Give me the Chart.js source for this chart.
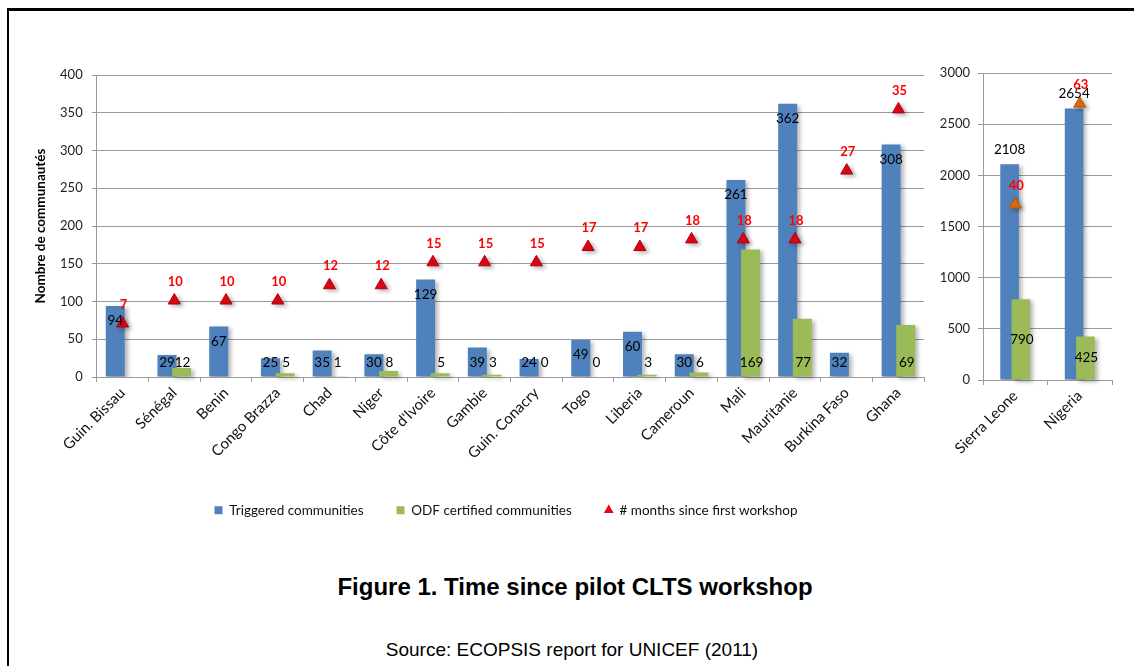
<!DOCTYPE html>
<html>
<head>
<meta charset="utf-8">
<script src="https://cdn.jsdelivr.net/npm/chart.js@4.4.1/dist/chart.umd.min.js"></script>
<style>
  html, body { margin: 0; padding: 0; background: #fff; }
  body { width: 1134px; height: 666px; position: relative; overflow: hidden; font-family: "Liberation Sans", Arial, sans-serif; }
  .frame { position: absolute; left: 7px; top: 8px; width: 1200px; height: 700px; border-left: 2px solid #000; border-top: 3px solid #000; }
  #leftWrap { position: absolute; left: 0; top: 0; width: 1134px; height: 527px; }
  #rightWrap { position: absolute; left: 935px; top: 0; width: 199px; height: 470px; }
  .title { position: absolute; left: 8px; width: 1134px; top: 573px; text-align: center; font-weight: bold; font-size: 24px; color: #000; }
  .source { position: absolute; left: 5px; width: 1134px; top: 639px; text-align: center; font-size: 19px; color: #000; }
</style>
</head>
<body>
<div class="frame"></div>
<div id="leftWrap"><canvas id="leftChart"></canvas></div>
<div id="rightWrap"><canvas id="rightChart"></canvas></div>
<div class="title">Figure 1. Time since pilot CLTS workshop</div>
<div class="source">Source: ECOPSIS report for UNICEF (2011)</div>
<script>
// small countries (left panel)
const countries = ['Guin. Bissau', 'Sénégal', 'Benin', 'Congo Brazza', 'Chad', 'Niger', "Côte d'Ivoire", 'Gambie',
  'Guin. Conacry', 'Togo', 'Liberia', 'Cameroun', 'Mali', 'Mauritanie', 'Burkina Faso', 'Ghana'];
const triggered = [94, 29, 67, 25, 35, 30, 129, 39, 24, 49, 60, 30, 261, 362, 32, 308];
const odfCertified = [null, 12, null, 5, 1, 8, 5, 3, 0, 0, 3, 6, 169, 77, null, 69];
const monthsSince = [7, 10, 10, 10, 12, 12, 15, 15, 15, 17, 17, 18, 18, 18, 27, 35];

// big countries (right panel)
const bigCountries = ['Sierra Leone', 'Nigeria'];
const bigTriggered = [2108, 2654];
const bigOdf = [790, 425];
const bigMonths = [40, 63];

const seriesNames = ['Triggered communities', 'ODF certified communities', '# months since first workshop'];
const yTitle = 'Nombre de communautés';

const BLUE = '#4F81BD';
const GREEN = '#9BBB59';
const RED = '#E30613';
const ORANGE = '#E46C0A';
const GRID = '#9a9a9a';
const tickFont = { family: 'Lato', size: 13 };
const catFont = { family: 'Lato', size: 15 };

function setShadow(ctx) {
  ctx.shadowColor = 'rgba(0,0,0,0.28)';
  ctx.shadowBlur = 4;
  ctx.shadowOffsetX = 3;
  ctx.shadowOffsetY = 2;
}

// shadows + draw the green bars after the blue ones so they overlap like in Excel
const barShadow = {
  id: 'barShadow',
  beforeDatasetDraw(chart, args) {
    if (args.index === 1) return false;
    chart.ctx.save();
    setShadow(chart.ctx);
  },
  afterDatasetDraw(chart, args) {
    chart.ctx.restore();
    if (args.index === 0) {
      const ctx = chart.ctx;
      ctx.save();
      setShadow(ctx);
      chart.getDatasetMeta(1).controller.draw();
      ctx.restore();
    }
  }
};

const valueLabels = {
  id: 'valueLabels',
  afterDatasetsDraw(chart, args, opts) {
    const ctx = chart.ctx;
    const ds = chart.data.datasets;
    ctx.save();
    ctx.textAlign = 'center';
    ctx.textBaseline = 'middle';
    ctx.font = '13.5px Lato';
    ctx.fillStyle = '#000';
    chart.getDatasetMeta(0).data.forEach((bar, i) => {
      const v = ds[0].data[i];
      if (v == null) return;
      const y = opts.blue === 'outside' ? bar.y - 15 : Math.min(bar.y + 15, bar.base - 14);
      ctx.fillText(v, bar.x, y);
    });
    chart.getDatasetMeta(1).data.forEach((bar, i) => {
      const v = ds[1].data[i];
      if (v == null) return;
      const y = opts.green === 'center' ? (bar.y + bar.base) / 2 : bar.base - 14;
      ctx.fillText(v, bar.x + 1, y);
    });
    ctx.font = 'bold 13px Lato';
    ctx.fillStyle = '#FF0000';
    chart.getDatasetMeta(2).data.forEach((pt, i) => {
      ctx.fillText(ds[2].data[i], pt.x + 1, pt.y - 19);
    });
    ctx.restore();
  }
};

const legendStyles = ['rect', 'rect', 'triangle'];

new Chart(document.getElementById('leftChart'), {
  type: 'bar',
  data: {
    labels: countries,
    datasets: [{
      label: seriesNames[0],
      data: triggered,
      backgroundColor: BLUE,
      barPercentage: 1.3,
      categoryPercentage: 0.565
    }, {
      label: seriesNames[1],
      data: odfCertified,
      backgroundColor: GREEN,
      barPercentage: 1.3,
      categoryPercentage: 0.565
    }, {
      type: 'line',
      label: seriesNames[2],
      data: monthsSince,
      yAxisID: 'y2',
      showLine: false,
      pointStyle: 'triangle',
      pointRadius: 7,
      pointBackgroundColor: RED,
      pointBorderColor: '#B00010',
      pointBorderWidth: 1,
      backgroundColor: RED,
      borderColor: RED,
      order: -1
    }]
  },
  options: {
    responsive: true,
    maintainAspectRatio: false,
    animation: false,
    layout: { padding: { left: 0, right: 122, top: 75, bottom: 0 } },
    scales: {
      x: {
        grid: { drawOnChartArea: false, color: GRID, tickLength: 5 },
        border: { color: GRID },
        ticks: { minRotation: 45, maxRotation: 45, autoSkip: false, font: catFont, color: '#111', padding: 2 },
        afterFit: s => { s.height = 93.5; }
      },
      y: {
        min: 0,
        max: 400,
        ticks: { stepSize: 50, padding: 9, font: tickFont, color: '#222' },
        grid: { color: GRID, tickLength: 5 },
        border: { color: GRID },
        title: { display: true, text: yTitle, color: '#000', font: { family: 'Lato', size: 13.5, weight: 'bold' }, padding: { top: 33 } },
        afterFit: s => { s.width = 96.7; }
      },
      y2: {
        position: 'right',
        min: 0,
        max: 39.5,
        ticks: { display: false },
        grid: { display: false },
        border: { display: false },
        afterFit: s => { s.width = 87.7; }
      }
    },
    plugins: {
      legend: {
        position: 'bottom',
        labels: {
          usePointStyle: true,
          boxWidth: 8,
          boxHeight: 8,
          padding: 33,
          color: '#111',
          font: { family: 'Lato', size: 13.5 },
          sort: (a, b) => a.datasetIndex - b.datasetIndex,
          generateLabels: chart => Chart.defaults.plugins.legend.labels.generateLabels(chart).map(it => {
            it.pointStyle = legendStyles[it.datasetIndex];
            it.lineWidth = 0;
            return it;
          })
        }
      },
      tooltip: { enabled: false },
      valueLabels: { blue: 'inside', green: 'base' }
    }
  },
  plugins: [barShadow, valueLabels]
});

new Chart(document.getElementById('rightChart'), {
  type: 'bar',
  data: {
    labels: bigCountries,
    datasets: [{
      label: seriesNames[0],
      data: bigTriggered,
      backgroundColor: BLUE,
      barPercentage: 1.65,
      categoryPercentage: 0.35
    }, {
      label: seriesNames[1],
      data: bigOdf,
      backgroundColor: GREEN,
      barPercentage: 1.65,
      categoryPercentage: 0.35
    }, {
      type: 'line',
      label: seriesNames[2],
      data: bigMonths,
      yAxisID: 'y2',
      showLine: false,
      pointStyle: 'triangle',
      pointRadius: 7,
      pointBackgroundColor: ORANGE,
      pointBorderColor: '#B65508',
      pointBorderWidth: 1,
      backgroundColor: ORANGE,
      borderColor: ORANGE,
      order: -1
    }]
  },
  options: {
    responsive: true,
    maintainAspectRatio: false,
    animation: false,
    layout: { padding: { left: 0, right: 22, top: 73, bottom: 0 } },
    scales: {
      x: {
        grid: {
          color: c => c.index === bigCountries.length ? GRID : 'rgba(0,0,0,0)',
          tickColor: GRID,
          tickLength: 5
        },
        border: { color: GRID },
        ticks: { minRotation: 45, maxRotation: 45, autoSkip: false, font: catFont, color: '#111', padding: 2 },
        afterFit: s => { s.height = 90; }
      },
      y: {
        min: 0,
        max: 3000,
        ticks: { stepSize: 500, padding: 8, font: tickFont, color: '#222', callback: v => v },
        grid: { color: GRID, tickLength: 5 },
        border: { color: GRID },
        afterFit: s => { s.width = 48; }
      },
      y2: { display: false, min: 0, max: 70 }
    },
    plugins: {
      legend: { display: false },
      tooltip: { enabled: false },
      valueLabels: { blue: 'outside', green: 'center' }
    }
  },
  plugins: [barShadow, valueLabels]
});
</script>
</body>
</html>
